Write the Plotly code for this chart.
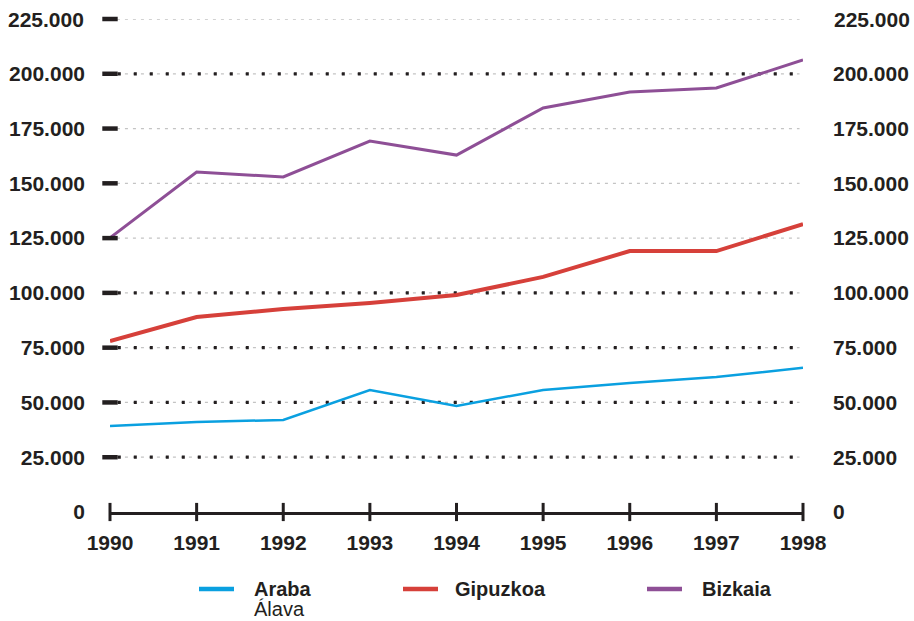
import plotly.graph_objects as go

# ---------------- data ----------------
years = [1990, 1991, 1992, 1993, 1994, 1995, 1996, 1997, 1998]
araba = [39200, 41100, 42000, 55700, 48400, 55700, 58900, 61600, 65800]
gipuzkoa = [78000, 89000, 92600, 95400, 99000, 107300, 119100, 119100, 131400]
bizkaia = [125100, 155200, 152900, 169300, 162900, 184400, 191700, 193500, 206300]

y_ticks = [0, 25000, 50000, 75000, 100000, 125000, 150000, 175000, 200000, 225000]
y_ticktext = ["0", "25.000", "50.000", "75.000", "100.000", "125.000",
              "150.000", "175.000", "200.000", "225.000"]
major_grid = [25000, 50000, 75000, 100000, 200000]

series_names = ["Araba", "Gipuzkoa", "Bizkaia"]
series_sub = ["Álava", "", ""]
colors = ["#0aa0e0", "#d6403a", "#8e4f96"]
widths = [2.5, 4, 3]

INK = "#231f20"
FONT = "Liberation Sans, Arial, sans-serif"

W, H = 914, 621
L, R, T, B = 110, 914 - 803, 19, 621 - 512
PW, PH = W - L - R, H - T - B


def px_x(p):
    return (p - L) / PW


def px_y(p):
    return (H - B - p) / PH


fig = go.Figure()

# gridlines (drawn through the y axis scale)
shapes = []
for v in y_ticks[1:]:
    shapes.append(dict(type="line", xref="x", yref="y", x0=1990.08, x1=1997.96,
                       y0=v, y1=v, layer="below",
                       line=dict(color="#c4c4c4", width=1.3, dash="3px,5px")))
for v in major_grid:
    shapes.append(dict(type="line", xref="x", yref="y", x0=1990.09, x1=1997.96,
                       y0=v, y1=v, layer="below",
                       line=dict(color=INK, width=3.2, dash="3px,13px")))

# series
for name, vals, c, w in zip(series_names, [araba, gipuzkoa, bizkaia], colors, widths):
    fig.add_trace(go.Scatter(x=years, y=vals, mode="lines", name=name,
                             line=dict(color=c, width=w), showlegend=False))

# left tick bars
fig.add_trace(go.Scatter(x=[years[0]] * (len(y_ticks) - 1), y=y_ticks[1:], mode="markers",
                         marker=dict(symbol="line-ew", size=11,
                                     line=dict(color=INK, width=4.5)),
                         showlegend=False, hoverinfo="skip", cliponaxis=False))
# x tick bars
fig.add_trace(go.Scatter(x=years, y=[0] * len(years), mode="markers",
                         marker=dict(symbol="line-ns", size=13,
                                     line=dict(color=INK, width=3)),
                         showlegend=False, hoverinfo="skip", cliponaxis=False))
# dummy for right axis
fig.add_trace(go.Scatter(x=[years[0]], y=[0], yaxis="y2", mode="markers",
                         marker=dict(opacity=0), showlegend=False, hoverinfo="skip"))

tickfont = dict(family=FONT, size=21, color=INK, weight="bold")

annotations = []
# top tick label (the axis would drop it because it touches the page edge)
top_v, top_t = y_ticks[-1], y_ticktext[-1]
annotations.append(dict(xref="paper", yref="y", x=0, y=top_v, xanchor="right", yanchor="middle",
                        xshift=-24, showarrow=False, text=top_t, font=tickfont))
annotations.append(dict(xref="paper", yref="y", x=1, y=top_v, xanchor="left", yanchor="middle",
                        xshift=29, showarrow=False, text=top_t, font=tickfont))

# legend (annotations + swatches)
leg_line_x = [199, 403, 647]
leg_text_x = [252, 453, 700]
leg_y = 589
for i, name in enumerate(series_names):
    shapes.append(dict(type="line", xref="paper", yref="paper",
                       x0=px_x(leg_line_x[i]), x1=px_x(leg_line_x[i] + 35),
                       y0=px_y(leg_y), y1=px_y(leg_y),
                       line=dict(color=colors[i], width=4.5)))
    annotations.append(dict(xref="paper", yref="paper", x=px_x(leg_text_x[i]), y=px_y(leg_y),
                            xanchor="left", yanchor="middle", showarrow=False,
                            text=name, font=dict(family=FONT, size=20, color=INK, weight="bold")))
    if series_sub[i]:
        annotations.append(dict(xref="paper", yref="paper", x=px_x(leg_text_x[i]), y=px_y(609),
                                xanchor="left", yanchor="middle", showarrow=False,
                                text=series_sub[i],
                                font=dict(family=FONT, size=20, color=INK)))

fig.update_layout(
    width=W, height=H, autosize=False,
    margin=dict(l=L, r=R, t=T, b=B, pad=0, autoexpand=False),
    paper_bgcolor="white", plot_bgcolor="white",
    showlegend=False,
    shapes=shapes, annotations=annotations,
    xaxis=dict(range=[1990, 1998], tickvals=years, ticktext=[str(y) for y in years],
               showgrid=False, zeroline=False, ticks="", tickfont=tickfont, automargin=False,
               showline=True, linecolor=INK, linewidth=3, ticklabelstandoff=10),
    yaxis=dict(range=[0, 225000], tickvals=y_ticks[:-1], ticktext=y_ticktext[:-1],
               automargin=False,
               showgrid=False, zeroline=False, ticks="", tickfont=tickfont,
               showline=False, ticklabelstandoff=24),
    yaxis2=dict(range=[0, 225000], tickvals=y_ticks[:-1], ticktext=y_ticktext[:-1],
                automargin=False, overlaying="y", side="right",
                showgrid=False, zeroline=False, ticks="", tickfont=tickfont,
                showline=False, ticklabelstandoff=29),
)

fig.write_html(
    "out.html",
    config={"displayModeBar": False},
    post_script="document.body.style.margin='0';document.body.style.overflow='hidden';",
)
